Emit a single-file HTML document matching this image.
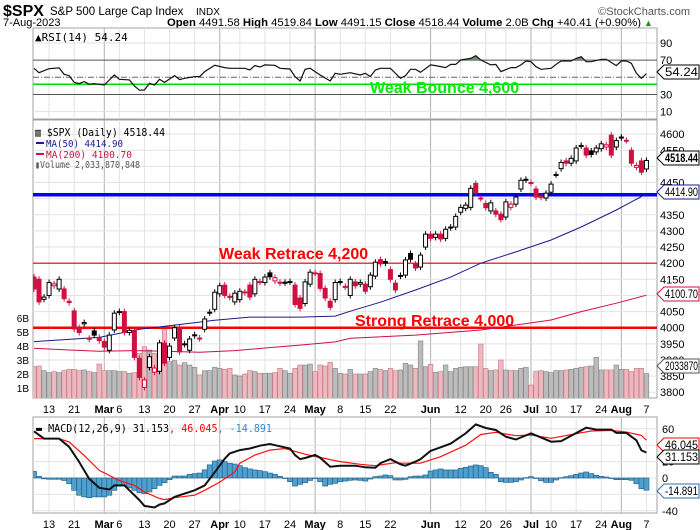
<!DOCTYPE html>
<html><head><meta charset="utf-8"><style>
html,body{margin:0;padding:0;background:#fff;}
svg{display:block;font-family:"Liberation Sans","DejaVu Sans",sans-serif;}
</style></head><body>
<svg id="chart" width="700" height="530" viewBox="0 0 700 530" xmlns="http://www.w3.org/2000/svg">
<defs>
<clipPath id="clipPrice"><rect x="33" y="120" width="624" height="278"/></clipPath>
<clipPath id="clipRsi"><rect x="33" y="28" width="624" height="91"/></clipPath>
<clipPath id="clipOB"><rect x="33" y="28" width="624" height="32"/></clipPath>
<clipPath id="clipMacd"><rect x="33" y="417" width="624" height="96"/></clipPath>
</defs>
<g>
<text x="3" y="16" font-size="16" font-weight="bold">$SPX</text>
<text x="50" y="15" font-size="11.5">S&amp;P 500 Large Cap Index</text>
<text x="196" y="15" font-size="10">INDX</text>
<text x="690" y="15" font-size="11" fill="#555" text-anchor="end">©StockCharts.com</text>
<text x="3" y="26" font-size="11">7-Aug-2023</text>
<text x="167" y="26" font-size="11" textLength="474" lengthAdjust="spacingAndGlyphs"><tspan font-weight="bold">Open</tspan> 4491.58 <tspan font-weight="bold">High</tspan> 4519.84 <tspan font-weight="bold">Low</tspan> 4491.15 <tspan font-weight="bold">Close</tspan> 4518.44 <tspan font-weight="bold">Volume</tspan> 2.0B <tspan font-weight="bold">Chg</tspan> +40.41 (+0.90%)</text>
<text x="644" y="26" font-size="9" fill="#2a8a2a">▲</text>
</g>
<g id="panels"></g>
</svg>
<script>
// ---- data ----
const opens = [4157,4150,4088,4100,4130,4120,4120,4082,4052,4000,4012,3967,3990,3970,3957,3930,3993,4048,4050,3985,3990,3905,3815,3877,3862,3865,3952,3908,3968,4000,3948,3930,3975,3968,3995,4046,4057,4105,4132,4097,4080,4087,4111,4132,4105,4143,4140,4170,4145,4141,4139,4142,4132,4092,4075,4135,4170,4168,4122,4082,4087,4141,4128,4100,4142,4135,4135,4127,4160,4211,4205,4180,4138,4162,4163,4230,4197,4188,4250,4290,4280,4290,4277,4312,4312,4358,4370,4373,4447,4402,4385,4362,4362,4352,4343,4373,4383,4430,4460,4450,4430,4408,4402,4420,4474,4493,4517,4510,4517,4565,4557,4548,4545,4555,4560,4597,4560,4591,4581,4550,4497,4517,4492];
const closes = [4120,4080,4095,4140,4136,4150,4090,4078,3996,3985,4016,3964,3977,3960,3940,3977,4045,4050,3985,3992,3908,3846,3838,3910,3875,3953,3890,3943,4000,3925,3950,3965,3978,3966,4027,4048,4110,4130,4100,4094,4107,4113,4109,4095,4150,4141,4157,4158,4155,4139,4141,4143,4072,4060,4142,4172,4169,4122,4092,4063,4140,4143,4126,4150,4130,4140,4113,4163,4203,4198,4200,4150,4117,4160,4210,4212,4185,4225,4290,4277,4290,4275,4305,4310,4345,4373,4380,4432,4417,4400,4372,4387,4352,4335,4390,4383,4405,4457,4458,4448,4405,4404,4417,4445,4475,4512,4510,4525,4557,4563,4535,4537,4557,4570,4567,4535,4580,4589,4580,4510,4503,4482,4518.44];
const volumesB = [2.52,2.57,2.24,2.1,2.17,2.1,2.24,2.33,2.33,2.24,2.29,2.17,2.1,2.71,2.24,2.24,2.24,2.17,2.17,2.05,2.1,3.48,3.95,3.71,3.48,3.48,5.26,2.88,2.95,2.64,2.81,2.64,2.48,1.93,2.24,2.24,2.48,2.4,2.33,2.4,1.93,1.86,2.0,2.24,2.17,2.05,2.05,2.05,2.1,2.4,2.24,2.05,2.4,2.64,2.64,2.71,2.17,2.64,2.57,2.83,2.4,2.05,2.0,2.33,2.0,2.0,2.0,2.17,2.4,2.33,2.24,2.4,2.24,2.29,2.76,2.64,2.4,4.36,2.52,2.69,2.12,2.17,2.64,2.17,2.4,2.48,2.52,2.52,2.52,4.14,2.4,2.24,2.29,3.0,2.29,2.24,2.24,2.4,2.48,1.21,2.17,2.24,2.17,2.1,2.24,2.24,2.29,2.33,2.4,2.48,2.52,2.57,3.19,2.29,2.29,2.29,2.64,2.33,2.33,2.17,2.4,2.4,2.03];
const ma50Day = [0,13,21,28,36,43,53,60,63,69,76,83,89,96,103,109,116,122];
const ma50Val = [3957,3970,3995,4008,4023,4033,4033,4036,4051,4079,4117,4157,4200,4235,4272,4312,4365,4414.9];
const ma200Day = [0,7,13,20,26,33,40,46,53,60,63,76,89,103,109,116,122];
const ma200Val = [3936,3931,3927,3929,3927,3924,3929,3937,3946,3956,3967,3977,3993,4024,4050,4076,4100.7];
const rsiDay = [0,1,3,5,6,7,8,9,10,11,12,14,16,17,19,20,21,22,23,24,25,26,28,29,30,32,33,34,36,38,39,42,43,44,45,46,48,49,51,52,53,54,55,57,59,60,61,63,65,66,67,68,69,71,73,74,75,76,77,79,80,82,83,84,85,87,88,89,91,92,93,95,96,97,98,99,100,101,103,104,105,107,108,109,110,111,113,114,116,117,118,119,120,121,122];
const rsiVal = [60.5,55.4,60,61,53.5,52,44,42.6,45,42,42.6,41,52.7,47.7,47,40,35,35.2,43,41,47.7,44,52,47.3,48.8,50.8,50.8,56.6,64,61.3,60.5,60.5,58.5,63.6,62,64.4,64,60.5,59.7,50.8,45.7,59.3,60.5,52.7,45.7,54.7,53.5,55.4,52.7,54.7,50.8,58.5,60.5,60.5,48.8,52,59.3,59.3,55.8,64.4,63.6,61.3,65,65,70.2,72,75.2,70.2,64.4,65,56.6,61.3,61.3,64.4,69,68.2,62.4,59.3,60.5,65.1,69,69,72,74,68.2,68.2,71,71,63.6,69,69,66.3,54.7,48.8,54.24];
const macdDay = [0,2,5,7,9,11,13,15,16,18,19,21,22,24,25,26,28,29,32,34,36,38,39,41,43,45,47,48,51,52,53,54,56,57,59,61,64,66,68,69,71,73,74,76,77,79,81,83,86,88,90,92,94,96,99,103,105,107,110,112,115,116,118,120,121,122];
const macdVal = [57,48,48,38,19.5,-1,-12,-14,-9,-9,-15,-27,-34,-36,-32.5,-31,-23,-21,-15,-9,7,23.6,30,34,36,39.4,41.5,40,36,28,23,24.4,28,24.8,13.8,15,15,13,12.6,18,23,16.7,15,20,23,33,37.4,42,54.5,65.4,61,58.5,50.4,47,54.5,44.3,45,51.6,61.4,59,59,55,55,46,33.7,31.153];
const signalDay = [0,5,7,10,13,17,20,22,25,26,28,32,34,37,40,41,44,47,50,54,57,61,65,68,72,73,77,81,86,89,92,96,99,103,108,111,115,118,121,122];
const signalVal = [48,48,44,27.6,9.3,-3,-9,-17,-25,-26.4,-24,-21,-15,-5,7.3,18,28,34,36,29,25,20,16.7,15,18.7,18,18,26,40,53,55.7,51.6,52.4,48.4,54,57.3,58,56,52,46.045];
const histVal = [8,2,-1,-1.5,-1.5,-1.5,-3,-7,-15,-21,-23,-24,-23,-23,-23,-21,-15,-10,-9,-12,-15,-18,-19,-17,-13,-9,-5.7,-2,2.4,2.4,2.4,4.5,5.3,6,10,16,20.7,22,20,18,17,15,12.6,11,9.8,9,7.7,6,4.5,2,0,-4.5,-9.8,-7.7,-5.7,-3,-0.4,-4.5,-9.8,-7.7,-6.5,-4.5,-3.7,-2.8,-2.4,-2.8,-3.7,-1.2,1.6,2.4,3.7,2.8,-2.4,-2.4,-1.6,1.6,2.4,2.4,3.7,8.5,9.8,11,9.8,9.8,9.8,11.8,13,14.6,15.9,15,12.6,6.9,4.5,-4.5,-5.3,-5.3,-4.5,-2.4,0.4,1.6,-0.4,-3.3,-5.3,-5.3,-2.4,0.4,1.6,2.8,4.5,6.1,7.3,5.3,3.3,2,1.2,0,-2,-2,-2,-2.8,-7,-13,-14.891];
const xTickDay = [3,8,14,17,22,27,32,37,41,46,51,56,61,66,71,79,85,90,94,99,103,108,113,117,122];
const xTickLabel = ["13","21","Mar","6","13","20","27","Apr","10","17","24","May","8","15","22","Jun","12","20","26","Jul","10","17","24","Aug","7"];
const priceTicks = [4600,4550,4450,4350,4300,4250,4200,4150,4100,4050,4000,3950,3900,3850,3800];
const priceGrid = [4600,4550,4500,4450,4400,4350,4300,4250,4200,4150,4100,4050,4000,3950,3900,3850,3800];
const volTicks = [6,5,4,3,2,1];
const rsiTicks = [90,70,30,10];
const macdTicks = [60,20,0,-40];
const macdGrid = [60,40,20,0,-20,-40];

// ---- scales ----
const X = d => 34 + d * 5.02;
const YP = p => 327.7 - (p - 4000) * 0.3226;
const YV = v => 402 - v * 14;
const YR = r => 77.3 - (r - 50) * 0.858;
const YM = v => 478 - v * 0.82;
const NS = "http://www.w3.org/2000/svg";
const root = document.getElementById('panels');
function mk(tag, attrs, parent) {
  const e = document.createElementNS(NS, tag);
  for (const k in attrs) e.setAttribute(k, attrs[k]);
  (parent || root).appendChild(e);
  return e;
}
function txt(s, attrs, parent) { const t = mk('text', attrs, parent); t.textContent = s; return t; }
function pts(days, vals, fy) { return days.map((d, i) => X(d).toFixed(1) + ',' + fy(vals[i]).toFixed(1)).join(' '); }

// panels
const panels = [['rsi-panel',28,91],['price-panel',120,278],['macd-panel',417,96]];
panels.forEach(p => {
  const r = mk('rect', {x:33, y:p[1], width:624, height:p[2], fill:'#fff', stroke:'#a0a0a0', 'stroke-width':1});
  
  
});

// vertical grid
const gridG = mk('g', {});


xTickDay.forEach((d, i) => {
  const isMonth = /[A-Z]/.test(xTickLabel[i]);
  [[28,119],[120,398],[417,513]].forEach(s => {
    const l = mk('line', {x1:X(d), x2:X(d), y1:s[0], y2:s[1], stroke: isMonth ? '#b0b0b0' : '#e2e2e2', 'stroke-width':1}, gridG);
    
    
  });
  [409, 524].forEach(yy => {
    const t = txt(xTickLabel[i], {x:X(d), y:yy+4, 'font-size':11, 'text-anchor':'middle', 'font-weight': isMonth ? 'bold' : 'normal'});
    
    
  });
});

// price horizontal grid
priceGrid.forEach(p => {
  const l = mk('line', {x1:33, x2:657, y1:YP(p), y2:YP(p), stroke:'#e2e2e2'});
  
  
});
priceTicks.forEach(p => {
  const t = txt(String(p), {x:660, y:YP(p)+4, 'font-size':11});
  
  
});
volTicks.forEach(v => {
  const t = txt(v + 'B', {x:29, y:YV(v)+4, 'font-size':10, 'text-anchor':'end'});
  
  
});

// price clip group
const pg = mk('g', {'clip-path':'url(#clipPrice)'});



// volume
closes.forEach((c, i) => {
  const down = i > 0 ? c < closes[i-1] : true;
  const y = YV(volumesB[i]);
  const r = mk('rect', {x:X(i)-2.3, y:y, width:4.6, height:402-y, fill: down ? '#ebb9bf' : '#bcbcbc', stroke: down ? '#d07f8a' : '#8c8c8c', 'stroke-width':0.7}, pg);
  
  
});

// horizontal annotation lines
const hl = [[4200,'#e00000',1.2,'weak-retrace-line'],[4000,'#ff0000',2.5,'strong-retrace-line'],[4412,'#0000ff',3.5,'support-line-blue']];
hl.forEach(h => {
  const l = mk('line', {x1:33, x2:657, y1:YP(h[0]), y2:YP(h[0]), stroke:h[1], 'stroke-width':h[2]}, pg);
  
  
});

// MAs
const m200 = mk('polyline', {points: pts(ma200Day, ma200Val, YP), fill:'none', stroke:'#cc1144', 'stroke-width':1}, pg);


const m50 = mk('polyline', {points: pts(ma50Day, ma50Val, YP), fill:'none', stroke:'#1a1a8c', 'stroke-width':1}, pg);



// candles
closes.forEach((c, i) => {
  const o = opens[i];
  const up = i > 0 ? c >= closes[i-1] : false;
  const col = up ? '#000' : '#d01040';
  const hollow = c > o;
  const x = X(i);
  const top = YP(Math.max(o, c)), bot = YP(Math.min(o, c));
  const g = mk('g', {}, pg);
  
  
  mk('line', {x1:x, x2:x, y1:top-3, y2:bot+3, stroke:col, 'stroke-width':1}, g);
  mk('rect', {x:x-2, y:top, width:4, height:Math.max(1, bot-top), fill: hollow ? '#fff' : col, stroke:col, 'stroke-width':1}, g);
});

// price annotations
const a1 = txt('Weak Retrace 4,200', {x:219, y:259, 'font-size':16, 'font-weight':'bold', fill:'#ff0000'});


const a2 = txt('Strong Retrace 4.000', {x:355, y:326, 'font-size':16, 'font-weight':'bold', fill:'#ff0000'});



// legend
const lg = mk('g', {'font-family':'"DejaVu Sans Mono","Liberation Mono",monospace'});


txt('▥ $SPX (Daily) 4518.44', {x:35, y:136, fill:'#000', 'font-size':11, textLength:130, lengthAdjust:'spacingAndGlyphs'}, lg);
mk('line', {x1:36, x2:44, y1:143, y2:143, stroke:'#1a1a8c', 'stroke-width':2}, lg);
txt('MA(50) 4414.90', {x:46, y:147, fill:'#1a1a8c', 'font-size':10, textLength:77, lengthAdjust:'spacingAndGlyphs'}, lg);
mk('line', {x1:36, x2:44, y1:154, y2:154, stroke:'#cc1144', 'stroke-width':2}, lg);
txt('MA(200) 4100.70', {x:46, y:158, fill:'#cc1144', 'font-size':10, textLength:86, lengthAdjust:'spacingAndGlyphs'}, lg);
txt('▮Volume 2,033,870,848', {x:35, y:168, fill:'#555', 'font-size':10, textLength:105, lengthAdjust:'spacingAndGlyphs'}, lg);

// RSI
const rg = mk('g', {'clip-path':'url(#clipRsi)'});


[90,10].forEach(v => mk('line', {x1:33, x2:657, y1:YR(v), y2:YR(v), stroke:'#e2e2e2'}, rg));
[70,30].forEach(v => mk('line', {x1:33, x2:657, y1:YR(v), y2:YR(v), stroke:'#555'}, rg));
mk('line', {x1:33, x2:657, y1:YR(50), y2:YR(50), stroke:'#666', 'stroke-dasharray':'6,2,1,2'}, rg);
const gl = mk('line', {x1:33, x2:657, y1:84.3, y2:84.3, stroke:'#00dd00', 'stroke-width':1.5}, rg);


const ob = mk('polygon', {points: X(rsiDay[0]) + ',' + YR(70) + ' ' + pts(rsiDay, rsiVal, YR) + ' ' + X(rsiDay[rsiDay.length-1]) + ',' + YR(70), fill:'#6e8c6e', 'clip-path':'url(#clipOB)'}, rg);


const rl = mk('polyline', {points: pts(rsiDay, rsiVal, YR), fill:'none', stroke:'#111', 'stroke-width':1.2}, rg);


const wb = txt('Weak Bounce 4,600', {x:370, y:93, 'font-size':16, 'font-weight':'bold', fill:'#00ee00'});


rsiTicks.forEach(v => {
  const t = txt(String(v), {x:660, y:YR(v)+4, 'font-size':11});
  
  
});
const rlg = txt('▲RSI(14) 54.24', {x:35, y:41, 'font-size':11, 'font-family':'"DejaVu Sans Mono","Liberation Mono",monospace'});



// MACD
const mg = mk('g', {'clip-path':'url(#clipMacd)'});


macdGrid.forEach(v => mk('line', {x1:33, x2:657, y1:YM(v), y2:YM(v), stroke:'#e2e2e2'}, mg));
histVal.forEach((v, i) => {
  const y0 = YM(0), y1 = YM(v);
  const r = mk('rect', {x:X(i)-2.5, y:Math.min(y0,y1), width:5, height:Math.max(0.5, Math.abs(y1-y0)), fill:'#4fa0cf', stroke:'#24648c', 'stroke-width':0.7}, mg);
  
  
});
const sl = mk('polyline', {points: pts(signalDay, signalVal, YM), fill:'none', stroke:'#ff1010', 'stroke-width':1.2}, mg);


const ml = mk('polyline', {points: pts(macdDay, macdVal, YM), fill:'none', stroke:'#111', 'stroke-width':2}, mg);


macdTicks.forEach(v => {
  const t = txt(String(v), {x:662, y:YM(v)+4, 'font-size':11});
  
  
});
const mlg = txt('', {x:36, y:432, 'font-size':10.5, 'font-family':'"DejaVu Sans Mono","Liberation Mono",monospace', textLength:236, lengthAdjust:'spacingAndGlyphs'});


mlg.innerHTML = '<tspan font-weight="bold">▬</tspan> MACD(12,26,9) 31.153<tspan fill="#ff0000">, 46.045</tspan><tspan fill="#2a8fd0">, -14.891</tspan>';

// value tags on right axis
const tags = [[72,'54.24','#000',false,'rsi-value-tag'],[158,'4518.44','#000',true,'close-value-tag'],[192,'4414.90','#1a1a8c',false,'ma50-value-tag'],[294,'4100.70','#cc1144',false,'ma200-value-tag'],[366,'2033870','#555',false,'volume-value-tag'],[445,'46.045','#ff0000',false,'signal-value-tag'],[457,'31.153','#000',false,'macd-value-tag'],[491,'-14.891','#2a6fb0',false,'histogram-value-tag']];
tags.forEach(t => {
  const g = mk('g', {});
  
  
  mk('path', {d:`M657,${t[0]} L664,${t[0]-7} L699,${t[0]-7} L699,${t[0]+7} L664,${t[0]+7} Z`, fill:'#fff', stroke:t[2], 'stroke-width':1}, g);
  txt(t[1], {x:665, y:t[0]+4, 'font-size':11.5, 'font-weight': t[3] ? 'bold' : 'normal', textLength:33, lengthAdjust:'spacingAndGlyphs'}, g);
});
</script>
</body></html>
